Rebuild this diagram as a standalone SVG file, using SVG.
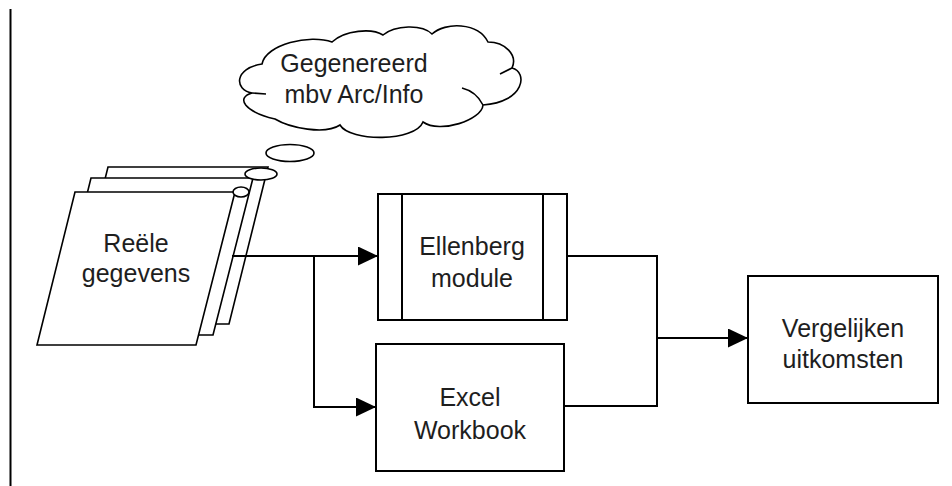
<svg xmlns="http://www.w3.org/2000/svg" width="952" height="486" viewBox="0 0 952 486">
<style>
.sh{fill:#fff;stroke:#000;stroke-width:1.6;stroke-linejoin:miter}
.bx{fill:#fff;stroke:#000;stroke-width:2}
.ln{fill:none;stroke:#000;stroke-width:2}
.tx{font-family:"Liberation Sans",Arial,sans-serif;font-size:25px;fill:#1e1e1e;text-anchor:middle}
</style>
<defs>
<marker id="ah" markerUnits="userSpaceOnUse" markerWidth="20" markerHeight="19" refX="20" refY="9.5" orient="auto">
<path d="M0,0 L20,9.5 L0,19 Z" fill="#000"/>
</marker>
</defs>
<rect width="952" height="486" fill="#fff"/>
<line x1="10.5" y1="9" x2="10.5" y2="486" stroke="#000" stroke-width="2"/>

<g id="cloud">
<path class="sh" d="M252,93 C234,90 234,68 262,64 C266,44 310,34 332,42 C345,30 372,28 383,35 C395,25 422,24 432,34 C445,22 478,22 488,42 C505,42 518,55 512,68 C528,72 525,102 483,105 C482,120 440,134 423,122 C415,142 350,142 340,125 C325,135 290,128 275,119 C245,112 235,98 252,93 Z"/>
<path class="ln" style="stroke-width:1.6" d="M252,93 L266,94 M483,105 C478,95 470,90 462,88 M512,68 L500,74"/>
<ellipse class="sh" cx="290" cy="153" rx="24" ry="8.5"/>
<text class="tx" x="354" y="72">Gegenereerd</text>
<text class="tx" x="354" y="103">mbv Arc/Info</text>
</g>

<g id="docs">
<polygon class="sh" points="108,167 268,167 229,324 69,324"/>
<polygon class="sh" points="91,178 253,178 213,335 52,335"/>
<ellipse class="sh" cx="261" cy="174" rx="16" ry="6"/>
<polygon class="sh" points="75,192 235,192 196,345 37,345"/>
<ellipse class="sh" cx="241" cy="192" rx="8" ry="5"/>
<text class="tx" x="136" y="252">Reële</text>
<text class="tx" x="136" y="282">gegevens</text>
</g>

<g id="ellenberg">
<rect class="bx" x="378" y="194" width="189" height="126"/>
<line class="ln" x1="402" y1="194" x2="402" y2="320"/>
<line class="ln" x1="543" y1="194" x2="543" y2="320"/>
<text class="tx" x="472" y="255">Ellenberg</text>
<text class="tx" x="472" y="287">module</text>
</g>

<g id="excel">
<rect class="bx" x="376" y="344" width="188" height="127"/>
<text class="tx" x="470" y="406">Excel</text>
<text class="tx" x="470" y="439">Workbook</text>
</g>

<g id="vergelijken">
<rect class="bx" x="748" y="276" width="190" height="127"/>
<text class="tx" x="843" y="337">Vergelijken</text>
<text class="tx" x="843" y="368">uitkomsten</text>
</g>

<g id="connectors">
<path class="ln" d="M232,256 H378" marker-end="url(#ah)"/>
<path class="ln" d="M314,256 V407 H376" marker-end="url(#ah)"/>
<path class="ln" d="M567,256 H657 V406 H564"/>
<path class="ln" d="M657,338 H748" marker-end="url(#ah)"/>
</g>
</svg>
